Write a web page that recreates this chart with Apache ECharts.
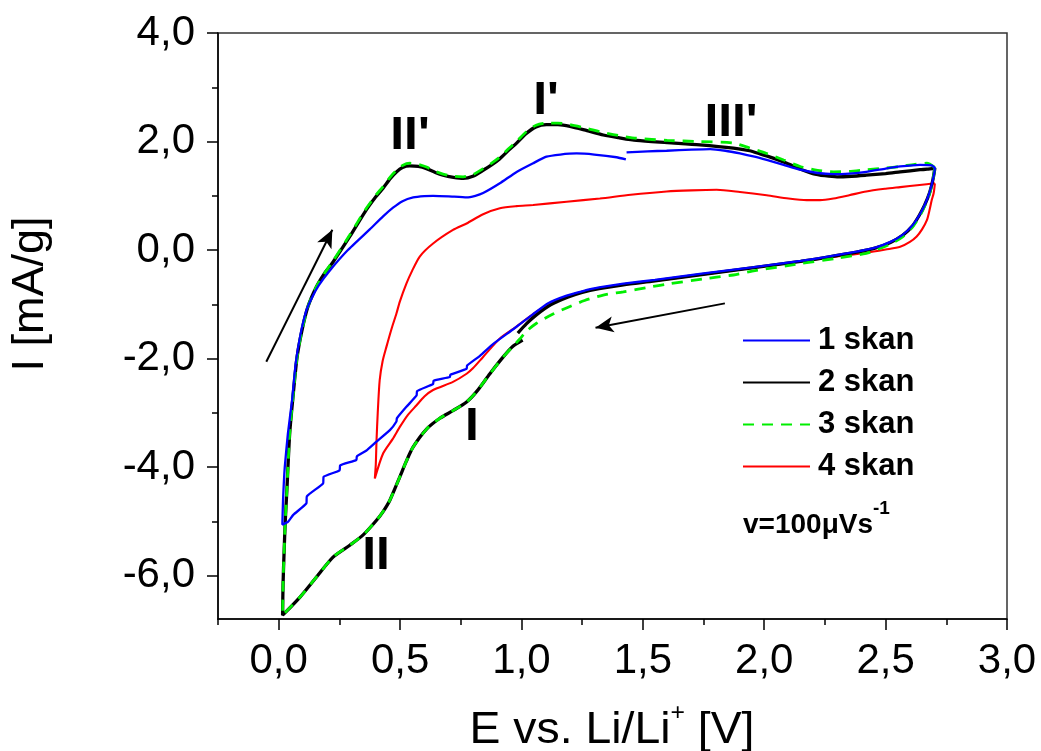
<!DOCTYPE html>
<html><head><meta charset="utf-8">
<script src="https://cdn.jsdelivr.net/npm/echarts@6/dist/echarts.min.js"></script>
<style>html,body{margin:0;padding:0;background:#fff}#c{width:1041px;height:751px}</style>
</head><body><div id="c"></div>
<script>
const FONT = 'Liberation Sans, Arial, sans-serif';
const seriesNames = ['1 skan', '2 skan', '3 skan', '4 skan'];
const xTicks = [0, 0.5, 1, 1.5, 2, 2.5, 3];
const xMinorTicks = [-0.25, 0.25, 0.75, 1.25, 1.75, 2.25, 2.75];
const yTicks = [-6, -4, -2, 0, 2, 4];
const yMinorTicks = [-5, -3, -1, 1, 3];

// scan 1 (blue)
const scan1 = [
[1.433,1.80],[1.52,1.82],[1.598,1.83],[1.70,1.85],[1.777,1.86],[1.84,1.83],[1.90,1.78],[1.96,1.72],[2.01,1.66],[2.08,1.57],[2.148,1.48],[2.22,1.42],[2.285,1.40],[2.35,1.41],[2.42,1.44],[2.50,1.50],[2.56,1.54],[2.642,1.57],[2.69,1.56],[2.703,1.51],
[2.695,1.30],[2.68,1.05],[2.66,0.82],[2.64,0.65],[2.61,0.45],[2.57,0.28],[2.52,0.15],[2.46,0.05],[2.38,-0.03],[2.25,-0.13],[2.15,-0.20],[1.95,-0.32],[1.75,-0.43],[1.55,-0.55],[1.42,-0.62],[1.32,-0.69],[1.25,-0.76],[1.186,-0.84],[1.11,-0.98],[1.048,-1.18],[0.966,-1.46],[0.884,-1.73],[0.829,-1.95],[0.776,-2.13],[0.774,-2.19],[0.707,-2.30],[0.705,-2.34],[0.638,-2.41],[0.636,-2.47],[0.570,-2.60],[0.568,-2.68],[0.526,-2.89],[0.487,-3.10],[0.485,-3.16],[0.458,-3.32],[0.403,-3.53],[0.36,-3.70],[0.322,-3.80],[0.32,-3.87],[0.253,-3.97],[0.251,-4.06],[0.185,-4.18],[0.183,-4.30],[0.116,-4.54],[0.114,-4.67],[0.06,-4.88],[0.038,-5.01],[0.015,-5.06],
[0.018,-4.6],[0.025,-4.0],[0.038,-3.38],[0.055,-2.77],[0.07,-2.09],[0.09,-1.55],[0.115,-1.10],[0.14,-0.85],[0.165,-0.65],[0.21,-0.38],[0.285,0.0],[0.375,0.38],[0.43,0.62],[0.471,0.78],[0.51,0.90],[0.554,0.97],[0.60,0.995],[0.636,1.0],[0.70,0.99],[0.774,0.97],[0.81,1.0],[0.842,1.05],[0.911,1.23],[0.98,1.44],[1.048,1.60],[1.103,1.72],[1.16,1.76],[1.227,1.78],[1.30,1.76],[1.392,1.71],[1.43,1.67]
];

// scan 2 (black); '-' marks the gap in the recorded curve
const scan2 = [
[2.703,1.51],[2.695,1.30],[2.68,1.04],[2.66,0.82],[2.64,0.65],[2.61,0.44],[2.57,0.27],[2.52,0.14],[2.46,0.04],[2.38,-0.04],[2.25,-0.14],[2.15,-0.21],[1.95,-0.33],[1.75,-0.45],[1.55,-0.57],[1.42,-0.64],[1.32,-0.71],[1.25,-0.78],[1.19,-0.87],[1.12,-1.01],[1.06,-1.20],[1.02,-1.36],[0.985,-1.53],
'-',
[1.005,-1.66],[0.966,-1.77],[0.925,-1.97],[0.87,-2.28],[0.815,-2.61],[0.774,-2.80],[0.718,-2.96],[0.664,-3.10],[0.609,-3.30],[0.554,-3.63],[0.525,-3.90],[0.499,-4.18],[0.458,-4.61],[0.43,-4.82],[0.403,-4.98],[0.348,-5.25],[0.293,-5.44],[0.224,-5.66],[0.155,-6.03],[0.087,-6.40],[0.016,-6.73],
[0.018,-6.15],[0.022,-5.6],[0.027,-5.0],[0.034,-4.4],[0.045,-3.4],[0.058,-2.75],[0.075,-2.0],[0.095,-1.5],[0.12,-1.05],[0.155,-0.68],[0.19,-0.42],[0.224,-0.22],[0.293,0.25],[0.355,0.70],[0.40,0.98],[0.43,1.14],[0.46,1.32],[0.485,1.44],[0.51,1.52],[0.54,1.55],[0.575,1.54],[0.609,1.50],[0.645,1.43],[0.677,1.38],[0.72,1.34],[0.76,1.32],[0.80,1.36],[0.842,1.47],[0.88,1.58],[0.91,1.68],[0.95,1.85],[0.98,1.97],[1.02,2.15],[1.06,2.27],[1.103,2.31],[1.15,2.31],[1.2,2.28],[1.27,2.20],[1.337,2.12],[1.40,2.07],[1.474,2.02],[1.6,1.98],[1.735,1.94],[1.873,1.88],[1.94,1.83],[1.983,1.77],[2.04,1.69],[2.093,1.60],[2.15,1.49],[2.2,1.41],[2.25,1.37],[2.30,1.35],[2.36,1.36],[2.42,1.38],[2.50,1.41],[2.56,1.44],[2.642,1.48],[2.67,1.49],[2.703,1.51]
];

// scan 3 (green, dashed)
const scan3 = [
[2.703,1.52],[2.695,1.30],[2.68,1.02],[2.66,0.80],[2.64,0.62],[2.61,0.42],[2.57,0.24],[2.52,0.11],[2.46,0.0],[2.42,-0.06],[2.30,-0.15],[2.15,-0.25],[1.95,-0.39],[1.873,-0.46],[1.75,-0.53],[1.598,-0.63],[1.53,-0.68],[1.42,-0.77],[1.337,-0.83],[1.26,-0.93],[1.2,-1.04],[1.13,-1.18],[1.062,-1.35],[1.02,-1.50],[0.993,-1.64],[0.966,-1.77],[0.925,-1.97],
[0.87,-2.28],[0.815,-2.61],[0.774,-2.80],[0.718,-2.96],[0.664,-3.10],[0.609,-3.30],[0.554,-3.63],[0.525,-3.90],[0.499,-4.18],[0.458,-4.61],[0.43,-4.82],[0.403,-4.98],[0.348,-5.25],[0.293,-5.44],[0.224,-5.66],[0.155,-6.03],[0.087,-6.40],[0.016,-6.73],
[0.018,-6.15],[0.022,-5.6],[0.027,-5.0],[0.034,-4.4],[0.045,-3.4],[0.058,-2.75],[0.075,-2.0],[0.095,-1.5],[0.12,-1.05],[0.155,-0.68],[0.19,-0.42],[0.224,-0.20],[0.293,0.28],[0.355,0.73],[0.40,1.01],[0.43,1.17],[0.46,1.35],[0.485,1.47],[0.51,1.56],[0.54,1.60],[0.575,1.58],[0.609,1.53],[0.645,1.45],[0.677,1.40],[0.72,1.36],[0.76,1.35],[0.80,1.39],[0.842,1.50],[0.88,1.61],[0.91,1.71],[0.95,1.88],[0.98,2.00],[1.02,2.18],[1.06,2.30],[1.103,2.34],[1.15,2.34],[1.2,2.31],[1.27,2.24],[1.323,2.18],[1.40,2.11],[1.474,2.06],[1.6,2.02],[1.735,2.00],[1.873,1.97],[1.94,1.88],[2.01,1.78],[2.08,1.66],[2.148,1.54],[2.22,1.47],[2.285,1.44],[2.35,1.45],[2.42,1.48],[2.50,1.51],[2.56,1.54],[2.62,1.58],[2.67,1.60],[2.703,1.52]
];

// scan 4 (red)
const scan4 = [
[2.703,1.23],[2.698,1.05],[2.69,0.92],[2.68,0.72],[2.67,0.55],[2.65,0.38],[2.628,0.25],[2.60,0.15],[2.56,0.06],[2.50,0.01],[2.42,-0.05],[2.30,-0.12],[2.15,-0.21],[1.95,-0.33],[1.75,-0.45],[1.55,-0.57],[1.42,-0.64],[1.32,-0.70],[1.25,-0.77],[1.19,-0.85],[1.12,-0.98],[1.048,-1.18],[0.98,-1.41],[0.911,-1.63],[0.842,-1.97],[0.80,-2.18],[0.774,-2.28],[0.718,-2.43],[0.636,-2.58],[0.60,-2.70],[0.568,-2.86],[0.53,-3.05],[0.499,-3.26],[0.47,-3.48],[0.43,-3.75],[0.396,-4.21],
[0.40,-3.95],[0.403,-3.51],[0.408,-3.0],[0.416,-2.40],[0.428,-2.05],[0.444,-1.78],[0.465,-1.45],[0.485,-1.17],[0.499,-0.95],[0.526,-0.62],[0.55,-0.38],[0.581,-0.12],[0.636,0.12],[0.718,0.37],[0.774,0.49],[0.842,0.66],[0.911,0.77],[0.98,0.81],[1.048,0.83],[1.186,0.89],[1.323,0.95],[1.45,1.02],[1.598,1.08],[1.70,1.10],[1.804,1.11],[1.90,1.07],[2.01,1.01],[2.10,0.95],[2.175,0.92],[2.23,0.92],[2.285,0.95],[2.35,1.01],[2.42,1.08],[2.50,1.13],[2.56,1.16],[2.64,1.20],[2.703,1.23]
];

const fmt = v => Number(v).toFixed(1).replace('.', ',');

function mkSeries(name, data, color, width, type, z, smooth) {
  return {
    name: name, type: 'line', data: data, symbol: 'none', showSymbol: false,
    smooth: smooth, z: z, silent: true, animation: false, connectNulls: false,
    lineStyle: { color: color, width: width, type: type },
    itemStyle: { color: color }
  };
}

const s1 = mkSeries(seriesNames[0], scan1, '#0000ff', 2.3, 'solid', 6, 0.15);
const s2 = mkSeries(seriesNames[1], scan2, '#000000', 3.3, 'solid', 4, 0.25);
const s3 = mkSeries(seriesNames[2], scan3, '#00ee00', 2.8, [11, 8], 5, 0.25);
const s4 = mkSeries(seriesNames[3], scan4, '#ff0000', 2.1, 'solid', 3, 0.25);
s2.markLine = {
  silent: true, animation: false, symbol: ['none', 'arrow'], symbolSize: [12, 18],
  label: { show: false },
  lineStyle: { color: '#000', width: 2, type: 'solid' },
  data: [
    [{ coord: [-0.051, -2.06] }, { coord: [0.221, 0.375] }],
    [{ coord: [1.838, -0.983] }, { coord: [1.305, -1.432] }]
  ]
};

const chart = echarts.init(document.getElementById('c'), null, { renderer: 'canvas' });
const option = {
  backgroundColor: '#fff',
  animation: false,
  textStyle: { fontFamily: FONT },
  grid: { left: 218, right: 34, top: 33, bottom: 132, show: true, borderColor: '#333', borderWidth: 1.5, outerBoundsMode: 'none' },
  xAxis: [
    {
      type: 'value', min: -0.25, max: 3, position: 'bottom',
      axisLine: { show: true, onZero: false, lineStyle: { color: '#000', width: 1.5 } },
      axisTick: { show: true, customValues: xTicks, length: 11, lineStyle: { color: '#000', width: 1.5 } },
      axisLabel: { customValues: xTicks, formatter: fmt, fontSize: 42, color: '#000', margin: 21, fontFamily: FONT },
      splitLine: { show: false }
    },
    {
      type: 'value', min: -0.25, max: 3, position: 'bottom',
      axisLine: { show: false, onZero: false },
      axisTick: { show: true, customValues: xMinorTicks, length: 6, lineStyle: { color: '#000', width: 1.5 } },
      axisLabel: { show: false }, splitLine: { show: false }
    }
  ],
  yAxis: [
    {
      type: 'value', min: -6.8, max: 4, position: 'left',
      axisLine: { show: true, onZero: false, lineStyle: { color: '#000', width: 1.5 } },
      axisTick: { show: true, customValues: yTicks, length: 11, lineStyle: { color: '#000', width: 1.5 } },
      axisLabel: { customValues: yTicks, formatter: fmt, fontSize: 42, color: '#000', margin: 23, fontFamily: FONT },
      splitLine: { show: false }
    },
    {
      type: 'value', min: -6.8, max: 4, position: 'left',
      axisLine: { show: false, onZero: false },
      axisTick: { show: true, customValues: yMinorTicks, length: 6, lineStyle: { color: '#000', width: 1.5 } },
      axisLabel: { show: false }, splitLine: { show: false }
    }
  ],
  legend: {
    orient: 'vertical', left: 742, top: 325, padding: 0,
    itemWidth: 67, itemHeight: 14, itemGap: 11, selectedMode: false,
    data: seriesNames,
    itemStyle: { opacity: 0 },
    textStyle: { fontSize: 31, fontWeight: 'bold', color: '#000', fontFamily: FONT, padding: [0, 0, 0, 3] }
  },
  graphic: [
    { type: 'text', x: 612, y: 727, z: 100, scaleX: 1.03, style: { text: '{a|E vs. Li/Li}{b|+}{a| [V]}', align: 'center', verticalAlign: 'middle', fill: '#000',
      rich: { a: { fontSize: 45, fontFamily: FONT, lineHeight: 52, verticalAlign: 'bottom', fill: '#000' }, b: { fontSize: 24, fontFamily: FONT, lineHeight: 24, verticalAlign: 'top', fill: '#000' } } } },
    { type: 'text', x: 31, y: 294, rotation: Math.PI / 2, z: 100, style: { text: 'I [mA/g]', align: 'center', verticalAlign: 'middle', fontSize: 45, fontFamily: FONT, fill: '#000' } },
    { type: 'text', x: 743, y: 519, z: 100, style: { text: '{a|v=100μVs}{b|-1}', align: 'left', verticalAlign: 'middle', fill: '#000',
      rich: { a: { fontSize: 28, fontWeight: 'bold', fontFamily: FONT, lineHeight: 40, verticalAlign: 'bottom', fill: '#000' }, b: { fontSize: 19, fontWeight: 'bold', fontFamily: FONT, lineHeight: 20, verticalAlign: 'top', fill: '#000' } } } },
    { type: 'text', x: 410, y: 136, z: 100, scaleX: 1.08, style: { text: "II'", align: 'center', verticalAlign: 'middle', fontSize: 46, fontWeight: 'bold', fontFamily: FONT, fill: '#000' } },
    { type: 'text', x: 546, y: 101, z: 100, scaleX: 1.08, style: { text: "I'", align: 'center', verticalAlign: 'middle', fontSize: 46, fontWeight: 'bold', fontFamily: FONT, fill: '#000' } },
    { type: 'text', x: 731, y: 123, z: 100, scaleX: 1.08, style: { text: "III'", align: 'center', verticalAlign: 'middle', fontSize: 46, fontWeight: 'bold', fontFamily: FONT, fill: '#000' } },
    { type: 'text', x: 472, y: 427, z: 100, scaleX: 1.08, style: { text: 'I', align: 'center', verticalAlign: 'middle', fontSize: 46, fontWeight: 'bold', fontFamily: FONT, fill: '#000' } },
    { type: 'text', x: 376, y: 556, z: 100, scaleX: 1.08, style: { text: 'II', align: 'center', verticalAlign: 'middle', fontSize: 46, fontWeight: 'bold', fontFamily: FONT, fill: '#000' } }
  ],
  series: [s4, s2, s3, s1]
};
chart.setOption(option);
</script>
</body></html>
